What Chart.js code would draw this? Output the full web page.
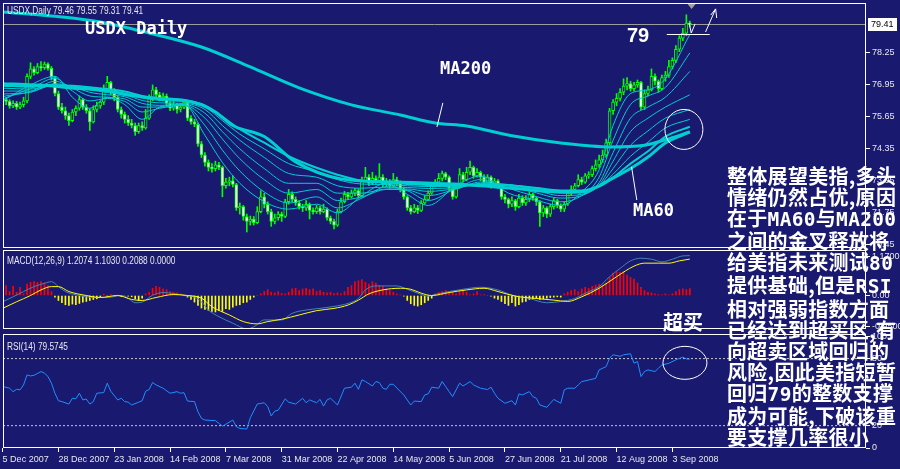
<!DOCTYPE html>
<html><head><meta charset="utf-8"><title>USDX Daily</title>
<script src="https://cdn.jsdelivr.net/npm/chart.js@4/dist/chart.umd.min.js"></script>
<style>
html,body{margin:0;padding:0;width:900px;height:469px;overflow:hidden;background:#191970;}
canvas{position:absolute;left:0;}
.t{position:absolute;white-space:pre;line-height:1;color:#fff;margin:0;}
.lg{font-family:"Liberation Sans",sans-serif;font-size:10px;color:#e8e8e8;transform:scaleX(0.83);transform-origin:0 0;}
.mono{font-family:"DejaVu Sans Mono",monospace;font-weight:bold;font-size:17px;}
.cn{font-family:"Noto Sans CJK SC",sans-serif;font-weight:700;font-size:20px;}
.lat{font-family:"DejaVu Sans Mono",monospace;font-weight:bold;font-size:19.5px;}
</style></head>
<body>
<canvas id="cMain" width="900" height="250" style="top:0px"></canvas>
<canvas id="cMacd" width="900" height="82" style="top:249px"></canvas>
<canvas id="cRsi" width="900" height="137" style="top:332px"></canvas>
<div id="legMain" class="t lg" style="left:7px;top:6px"></div>
<div id="legMacd" class="t lg" style="left:7px;top:256px"></div>
<div id="legRsi" class="t lg" style="left:7px;top:342px"></div>
<div class="t mono" style="left:85px;top:20px">USDX Daily</div>
<div class="t mono" style="left:440px;top:60px">MA200</div>
<div class="t mono" style="left:633px;top:202px">MA60</div>
<div class="t" style="left:627px;top:25px;font-family:'Liberation Sans',sans-serif;font-weight:bold;font-size:20px">79</div>
<div class="t cn" style="left:663px;top:312px">超买</div>
<div id="note" class="t cn" style="left:727px;top:165px;line-height:21.1px;letter-spacing:0.3px"></div>
<script>
const BG = '#191970';
const FONT = '"Liberation Sans",sans-serif';
const X_MIN = 0.11, X_MAX = 247.5;

// ---------- price data (daily bars, 5 Dec 2007 .. 10 Sep 2008) ----------
const opens = [
76.10,76.35,76.28,76.10,76.20,76.05,76.15,76.30,77.30,77.60,
77.45,77.70,77.65,77.80,77.62,77.25,76.60,76.05,75.90,75.70,
75.50,75.85,76.00,76.35,76.05,75.90,75.45,75.95,76.10,76.25,
76.80,77.05,76.70,76.45,75.95,75.75,75.55,75.40,75.30,75.05,
75.30,75.20,75.60,76.40,76.75,76.55,76.40,76.50,76.20,76.00,
76.15,75.95,76.05,76.25,75.60,75.45,75.35,74.55,74.10,73.80,
73.60,73.55,73.70,73.60,72.85,73.00,73.05,72.90,71.95,72.00,
71.60,71.40,71.50,71.35,71.80,72.40,72.10,71.80,71.40,71.55,
71.70,71.60,72.20,72.50,72.30,72.15,72.00,71.95,72.10,71.85,
71.80,71.95,71.80,71.90,71.55,71.40,71.25,71.80,72.20,72.50,
72.40,72.55,72.65,72.45,73.05,73.20,72.95,73.15,73.05,73.20,
72.90,73.00,72.85,73.10,72.95,72.70,72.40,71.95,71.80,71.95,
71.85,72.15,72.30,72.55,72.85,73.00,73.15,73.35,73.20,72.75,
72.40,72.80,73.30,73.10,73.40,73.60,73.25,73.40,73.20,73.00,
73.20,72.90,73.05,72.85,72.40,72.30,72.10,72.25,72.00,72.35,
72.15,72.30,72.50,72.35,72.20,71.75,71.95,71.70,72.00,72.25,
72.05,71.90,72.10,72.55,72.70,72.85,73.10,73.00,73.25,73.30,
73.55,73.70,73.90,74.10,74.60,75.90,76.25,76.40,76.65,76.90,
77.00,76.80,76.95,77.05,76.05,76.60,76.75,77.30,77.10,76.80,
77.25,77.35,77.70,77.95,78.40,78.85,79.05,79.46];
const highs = [
76.45,76.42,76.35,76.30,76.28,76.25,76.45,77.40,77.85,77.70,
77.82,77.90,77.88,77.85,77.70,77.30,76.70,76.20,76.05,75.80,
75.95,76.10,76.50,76.40,76.15,75.98,76.10,76.25,76.30,76.95,
77.30,77.10,76.80,76.50,76.05,75.85,75.70,75.55,75.40,75.40,
75.45,75.95,76.55,76.95,76.85,76.65,76.62,76.58,76.30,76.28,
76.20,76.20,76.35,76.30,75.70,75.55,75.40,74.65,74.20,73.90,
73.75,73.85,73.80,73.65,73.15,73.20,73.25,72.95,72.15,72.05,
71.70,71.62,71.60,72.00,72.65,72.55,72.20,71.90,71.70,71.80,
71.78,72.30,72.70,72.60,72.40,72.25,72.10,72.25,72.15,71.95,
72.05,72.02,72.10,71.95,71.62,71.50,71.90,72.35,72.62,72.58,
72.68,72.75,72.72,73.20,73.60,73.30,73.40,73.25,73.75,73.30,
73.15,73.10,73.35,73.20,73.05,72.80,72.45,72.05,72.10,72.05,
72.25,72.45,72.65,72.95,73.10,73.35,73.45,73.40,73.25,72.80,
72.95,73.55,73.40,73.60,73.85,73.65,73.55,73.45,73.30,73.30,
73.25,73.15,73.10,72.90,72.50,72.35,72.40,72.30,72.50,72.45,
72.45,72.60,72.55,72.40,72.25,72.05,72.00,72.10,72.35,72.30,
72.12,72.20,72.65,72.85,72.95,73.30,73.20,73.35,73.42,73.65,
73.90,74.10,74.30,74.75,76.00,76.35,76.60,76.80,77.20,77.25,
77.10,77.05,77.15,77.10,76.75,76.90,77.60,77.40,77.15,77.35,
77.50,77.95,78.05,78.55,78.95,79.25,79.80,79.55];
const lows = [
75.65,76.15,76.00,76.02,75.95,75.98,76.05,76.22,77.20,77.35,
77.40,77.52,77.58,77.55,77.15,76.50,75.95,75.80,75.55,75.30,
75.45,75.70,75.92,75.95,75.80,75.10,75.40,75.85,76.00,76.15,
76.70,76.55,76.30,75.85,75.60,75.40,75.30,75.20,74.90,74.98,
75.10,75.15,75.55,76.30,76.45,76.30,76.30,76.10,75.90,75.92,
75.80,75.85,75.98,75.50,75.35,75.25,74.45,74.00,73.65,73.45,
73.40,73.45,73.50,72.40,72.75,72.85,72.80,71.85,71.70,71.45,
70.97,71.25,71.25,71.30,71.75,71.95,71.70,71.20,71.30,71.45,
71.40,71.55,72.10,72.20,72.05,71.90,71.80,71.85,71.50,71.70,
71.72,71.70,71.75,71.45,71.30,71.10,71.20,71.75,72.15,72.30,
72.35,72.45,72.35,72.40,73.00,72.85,72.90,72.95,73.00,72.80,
72.80,72.75,72.80,72.85,72.60,72.30,71.85,71.70,71.75,71.72,
71.80,72.10,72.25,72.50,72.80,72.95,73.05,73.10,72.65,72.30,
72.35,72.75,73.00,73.05,73.30,73.15,73.20,73.05,72.90,72.95,
72.75,72.85,72.75,72.30,72.15,71.95,72.00,71.85,71.95,72.05,
72.05,72.20,72.25,72.05,71.20,71.60,71.55,71.60,71.90,71.95,
71.80,71.80,72.05,72.45,72.60,72.80,72.90,72.95,73.15,73.22,
73.45,73.60,73.80,74.00,74.50,75.75,76.10,76.30,76.55,76.75,
76.70,76.70,76.85,75.93,75.95,76.50,76.70,76.95,76.65,76.75,
77.10,77.25,77.60,77.85,78.30,78.75,78.95,79.31];
const closes = [
76.35,76.28,76.10,76.20,76.05,76.15,76.30,77.30,77.60,77.45,
77.70,77.65,77.80,77.62,77.25,76.60,76.05,75.90,75.70,75.50,
75.85,76.00,76.35,76.05,75.90,75.45,75.95,76.10,76.25,76.80,
77.05,76.70,76.45,75.95,75.75,75.55,75.40,75.30,75.05,75.30,
75.20,75.60,76.40,76.75,76.55,76.40,76.50,76.20,76.00,76.15,
75.95,76.05,76.25,75.60,75.45,75.35,74.55,74.10,73.80,73.60,
73.55,73.70,73.60,72.85,73.00,73.05,72.90,71.95,72.00,71.60,
71.40,71.50,71.35,71.80,72.40,72.10,71.80,71.40,71.55,71.70,
71.60,72.20,72.50,72.30,72.15,72.00,71.95,72.10,71.85,71.80,
71.95,71.80,71.90,71.55,71.40,71.25,71.80,72.20,72.50,72.40,
72.55,72.65,72.45,73.05,73.20,72.95,73.15,73.05,73.20,72.90,
73.00,72.85,73.10,72.95,72.70,72.40,71.95,71.80,71.95,71.85,
72.15,72.30,72.55,72.85,73.00,73.15,73.35,73.20,72.75,72.40,
72.80,73.30,73.10,73.40,73.60,73.25,73.40,73.20,73.00,73.20,
72.90,73.05,72.85,72.40,72.30,72.10,72.25,72.00,72.35,72.15,
72.30,72.50,72.35,72.20,71.75,71.95,71.70,72.00,72.25,72.05,
71.90,72.10,72.55,72.70,72.85,73.10,73.00,73.25,73.30,73.55,
73.70,73.90,74.10,74.60,75.90,76.25,76.40,76.65,76.90,77.00,
76.80,76.95,77.05,76.05,76.60,76.75,77.30,77.10,76.80,77.25,
77.35,77.70,77.95,78.40,78.85,79.05,79.46,79.41];

// ---------- moving averages: [bar index, value] ----------
const ma200Pts = [[0,79.92],[14,79.75],[28,79.51],[42,79.06],[57,78.49],[71,77.68],[85,76.83],[100,76.14],[114,75.73],[124,75.40],[133,75.28],[146,74.88],[160,74.59],[174,74.43],[184,74.50],[190,74.72],[197,75.04]];
const ma60Pts = [[0,77.00],[9,76.95],[15,76.90],[19,76.83],[28,76.75],[36,76.54],[40,76.46],[43,76.42],[53,76.30],[57,76.14],[61,75.85],[66,75.30],[75,74.85],[84,73.82],[97,73.13],[113,73.00],[132,72.90],[146,72.75],[160,72.60],[166,72.62],[171,72.85],[174,73.09],[180,73.55],[185,74.02],[190,74.59],[197,75.04]];
const ribbonIdx = [0,8,15,20,25,30,35,40,45,52,58,63,68,75,82,90,96,103,110,116,122,130,137,145,152,160,166,171,175,180,185,190,197];
const ribbon1 = [76.30,76.95,77.30,76.45,76.00,76.45,76.15,75.55,76.05,76.15,74.90,73.80,72.95,72.20,71.90,72.10,71.75,72.45,72.95,72.50,72.05,72.85,73.25,72.55,72.30,72.05,72.60,73.50,75.30,76.60,76.75,77.20,79.00];
const ribbon2 = [76.38,76.80,77.22,76.70,76.30,76.40,76.28,75.85,76.00,76.12,75.30,74.30,73.45,72.60,72.15,72.40,71.95,72.35,72.80,72.65,72.25,72.75,73.10,72.75,72.45,72.20,72.45,73.20,74.70,76.15,76.50,76.85,78.25];
const ribbon3 = [76.48,76.68,77.10,76.82,76.50,76.45,76.38,76.05,76.05,76.12,75.60,74.75,73.95,73.10,72.55,72.70,72.25,72.40,72.70,72.68,72.45,72.72,73.00,72.85,72.60,72.35,72.45,72.98,74.20,75.60,76.05,76.45,77.50];
const ribbon4 = [76.58,76.65,77.00,76.88,76.65,76.55,76.47,76.20,76.12,76.15,75.80,75.05,74.35,73.55,72.95,72.95,72.55,72.55,72.72,72.72,72.62,72.74,72.95,72.90,72.70,72.45,72.50,72.88,73.85,75.05,75.60,76.05,76.55];
const ribbon5 = [76.70,76.70,76.95,76.90,76.75,76.64,76.55,76.32,76.22,76.20,75.95,75.30,74.70,74.00,73.35,73.20,72.85,72.75,72.80,72.78,72.74,72.78,72.92,72.90,72.75,72.55,72.56,72.84,73.55,74.50,75.08,75.60,75.95];
const ribbon6 = [76.82,76.78,76.93,76.91,76.82,76.72,76.62,76.42,76.32,76.27,76.05,75.50,74.95,74.35,73.75,73.42,73.10,72.92,72.90,72.85,72.82,72.83,72.90,72.88,72.78,72.62,72.62,72.82,73.32,74.05,74.62,75.20,75.55];
const ribbon7 = [76.92,76.88,76.94,76.92,76.86,76.78,76.68,76.50,76.40,76.33,76.12,75.65,75.15,74.60,74.05,73.58,73.30,73.05,72.98,72.92,72.88,72.86,72.88,72.86,72.78,72.66,72.66,72.82,73.18,73.75,74.25,74.85,75.25];

// ---------- MACD(12,26,9) ----------
const macdPts = [[0,-0.19],[3,-0.04],[6,0.12],[9,0.27],[12,0.37],[14,0.42],[16,0.27],[18,0.12],[22,0.00],[26,-0.06],[30,-0.06],[34,0.00],[36,-0.08],[38,-0.22],[40,-0.20],[43,0.01],[46,0.09],[49,0.06],[52,0.00],[55,-0.05],[57,-0.19],[59,-0.44],[62,-0.64],[66,-0.84],[70,-1.01],[72,-0.95],[75,-0.74],[78,-0.74],[80,-0.74],[83,-0.54],[87,-0.44],[91,-0.39],[95,-0.33],[99,-0.24],[102,-0.09],[104,0.17],[107,0.29],[110,0.29],[113,0.29],[116,0.19],[119,0.07],[122,-0.02],[124,0.03],[128,0.12],[132,0.19],[137,0.25],[142,0.17],[146,0.01],[151,-0.09],[156,-0.22],[160,-0.18],[164,-0.09],[167,0.07],[171,0.27],[174,0.57],[177,0.82],[180,1.05],[183,1.13],[186,1.10],[189,1.02],[192,1.10],[195,1.20],[197,1.2074]];
const signalPts = [[0,-0.39],[4,-0.19],[8,0.00],[11,0.17],[14,0.27],[16,0.27],[19,0.12],[24,0.00],[28,-0.06],[33,0.00],[37,-0.12],[40,-0.15],[44,-0.06],[49,0.03],[53,0.00],[57,-0.08],[60,-0.34],[65,-0.59],[69,-0.79],[73,-0.86],[76,-0.79],[80,-0.72],[85,-0.59],[90,-0.46],[95,-0.39],[99,-0.29],[102,-0.14],[105,0.05],[109,0.17],[114,0.22],[117,0.19],[120,0.07],[123,0.00],[128,0.09],[133,0.17],[138,0.22],[142,0.12],[147,-0.02],[153,-0.09],[158,-0.14],[162,-0.18],[166,-0.04],[171,0.22],[176,0.57],[181,0.89],[184,0.98],[188,0.98],[191,0.98],[194,1.05],[197,1.103]];
const macdHist = [
0.10,0.30,0.12,0.28,0.10,0.25,0.05,0.35,0.40,0.42,0.40,0.42,0.38,0.30,0.12,
-0.05,-0.15,-0.22,-0.28,-0.30,-0.26,-0.28,-0.24,-0.20,-0.18,-0.15,-0.12,-0.10,-0.06,
0.04,-0.02,0.03,-0.01,0.02,-0.03,0.00,-0.02,-0.04,-0.10,-0.15,-0.08,0.05,
0.10,0.22,0.28,0.25,0.20,0.18,0.12,0.10,0.08,0.05,0.02,
-0.05,-0.12,-0.20,-0.30,-0.38,-0.42,-0.45,-0.48,-0.50,-0.45,-0.48,-0.40,-0.42,-0.35,-0.30,-0.28,-0.22,-0.20,-0.12,
-0.05,0.00,0.05,
0.12,0.18,0.10,0.08,0.12,0.06,0.05,0.10,0.20,0.22,0.15,0.20,0.22,0.18,0.20,0.12,0.15,0.10,0.08,0.10,0.06,0.08,0.05,0.12,
0.25,0.30,0.42,0.45,0.48,0.40,0.35,0.42,0.38,0.30,0.28,0.20,0.15,0.10,0.05,0.02,-0.02,
-0.15,-0.25,-0.30,-0.32,-0.28,-0.22,-0.15,-0.08,
0.05,0.10,0.12,0.15,0.08,0.10,0.05,0.12,0.15,0.10,0.02,0.05,0.12,0.02,0.03,0.00,-0.02,
-0.08,-0.12,-0.18,-0.25,-0.30,-0.22,-0.32,-0.28,-0.20,-0.18,-0.12,-0.10,-0.08,-0.12,-0.10,-0.08,-0.06,-0.05,-0.04,-0.05,
0.05,0.10,0.15,0.18,0.12,0.20,0.25,0.22,0.28,0.32,0.35,0.30,0.38,
0.55,0.68,0.72,0.70,0.72,0.62,0.55,0.50,0.38,
0.25,0.15,0.10,0.08,0.05,0.03,0.02,0.05,
0.02,0.05,0.12,0.18,0.20,0.18,0.2088];
const macdLast = [1.2074, 1.1030, 0.2088, 0.0000];

// ---------- RSI(14) ----------
const rsiPts = [[0,55],[2,53.5],[3,50.4],[4,52.5],[5,52],[6,56.4],[7,65.4],[8,64.5],[9,65],[11,68.4],[12,66.9],[13,64],[14,58],[15,49],[16,42.3],[17,41.5],[19,39.3],[20,44.5],[21,44],[22,49],[23,43],[24,43.8],[25,39.3],[26,41.5],[27,49],[29,49.6],[30,58],[31,50.8],[33,43],[34,44.5],[35,41.5],[36,41],[37,38.5],[39,41],[40,42.3],[41,50.8],[42,52.3],[43,58.6],[44,56.4],[46,53.5],[48,49],[50,50.4],[51,49],[52,49.5],[53,42],[55,41.5],[56,32.4],[57,26.5],[58,25],[61,24.5],[63,19.6],[64,21.3],[66,25],[67,19],[68,17.5],[70,17],[71,27],[73,39.3],[75,40.5],[76,37],[77,28.6],[78,33],[79,33.8],[81,44],[82,41],[84,39.3],[86,44.5],[87,40.5],[88,43],[90,40.5],[91,43.5],[92,37.5],[93,43],[94,44.5],[96,38.5],[98,53.5],[100,54.4],[101,58],[102,52.5],[103,61],[104,59.5],[106,55.5],[107,59.5],[108,58.5],[109,53.5],[110,52.5],[111,57],[112,57],[114,50.5],[115,47.5],[117,38.5],[118,42],[120,41.5],[121,47.5],[122,48.4],[123,54.4],[125,53.5],[126,59.5],[127,55],[128,50.4],[129,46],[131,58],[132,55.5],[134,59.4],[135,56.4],[137,53.5],[139,52.3],[140,54.4],[141,49],[142,44.5],[144,40],[146,42.3],[147,38.5],[148,48.4],[149,47.5],[151,50.4],[152,46],[153,44.5],[154,38.5],[156,36.4],[157,40],[158,43.5],[160,40],[161,52],[162,53.5],[164,53.5],[165,56.4],[166,59.4],[168,60.8],[170,62.3],[171,69.9],[173,72.8],[174,80.4],[175,83.4],[177,82],[178,83.4],[180,84.3],[181,75.9],[182,77.4],[183,63.9],[184,68.4],[185,69.9],[187,68.4],[188,71.4],[189,74.3],[191,75.8],[193,78.9],[195,81.3],[196,79.7],[197,79.5745]];
const rsiLevels = [80, 20];

// ---------- axes ----------
const priceTicks = [78.25, 76.95, 75.65, 74.35, 73.05, 71.75, 70.45];
const macdTicks = [1.17, 0, -0.95];
const rsiTicks = [0, 20, 80, 100];
const dateIdx = [0,16,32,48,64,80,96,112,128,144,160,176,192];
const dateLabels = ['5 Dec 2007','28 Dec 2007','23 Jan 2008','14 Feb 2008','7 Mar 2008','31 Mar 2008','22 Apr 2008','14 May 2008','5 Jun 2008','27 Jun 2008','21 Jul 2008','12 Aug 2008','3 Sep 2008'];

// ---------- hand-drawn annotations, in data coordinates ----------
const annLines = [
  [190.4,79.0,202.7,79.0],
  [126.2,76.22,124.5,75.24],
  [180.3,73.62,181.8,72.27],
  [201.5,79.10,204.4,80.04],
  [204.4,80.04,203.0,79.79],
  [204.4,80.04,204.7,79.67],
  [196.8,79.47,197.4,79.06],
  [197.4,79.06,198.5,79.43]
];
const annEllipses = [[195.3,75.14,19,20]];
const rsiEllipses = [[195.6,76.2,22,16.5]];
const shiftIdx = 197.5;

const noteLines = ['整体展望美指,多头','情绪仍然占优,原因','在于MA60与MA200','之间的金叉释放将','给美指未来测试80','提供基础,但是RSI','相对强弱指数方面','已经达到超买区,有','向超卖区域回归的','风险,因此美指短暂','回归79的整数支撑','成为可能,下破该重','要支撑几率很小'];

// ---------- build ----------
const N = closes.length;
const CYAN = '#00CED1';
document.getElementById('legMain').textContent = 'USDX,Daily ' + [opens[N-1],highs[N-1],lows[N-1],closes[N-1]].map(v=>v.toFixed(2)).join(' ');
document.getElementById('legMacd').textContent = 'MACD(12,26,9) ' + macdLast.map(v=>v.toFixed(4)).join(' ');
document.getElementById('legRsi').textContent = 'RSI(14) ' + rsiPts[rsiPts.length-1][1].toFixed(4);
(function(){
  const note = document.getElementById('note');
  noteLines.forEach((line, k)=>{
    line.split(/([A-Za-z0-9]+)/).forEach(part=>{
      if (!part) return;
      if (/^[A-Za-z0-9]+$/.test(part)) { const s = document.createElement('span'); s.className = 'lat'; s.textContent = part; note.appendChild(s); }
      else note.appendChild(document.createTextNode(part));
    });
    if (k < noteLines.length-1) note.appendChild(document.createElement('br'));
  });
})();

function pts(p){ return p.map(([x,y])=>({x,y})); }
function lineDS(data, color, width, order, mono){
  return {type:'line', data, borderColor:color, borderWidth:width, pointRadius:0, fill:false,
          cubicInterpolationMode: mono ? 'monotone' : 'default', tension:0, order};
}
function rightAxis(min, max, ticks, fmt){
  return {position:'right', min, max,
    afterFit(s){ s.width = 34; s.paddingTop = 0; s.paddingBottom = 0; },
    afterBuildTicks(s){ s.ticks = ticks.map(v=>({value:v})); },
    ticks:{color:'#e8e8e8', font:{family:FONT, size:9}, padding:2, autoSkip:false, callback:fmt},
    grid:{drawOnChartArea:false, drawTicks:true, tickLength:4, color:'#ffffff', lineWidth:1},
    border:{display:false}};
}
const hiddenX = {type:'linear', min:X_MIN, max:X_MAX, display:false, offset:false};
const baseOpts = {responsive:false, animation:false, events:[], plugins:{legend:{display:false}, tooltip:{enabled:false}}};

const framePlugin = {id:'frame', afterDraw(chart){
  const a = chart.chartArea, c = chart.ctx;
  c.save(); c.strokeStyle = '#ffffff'; c.lineWidth = 1;
  c.strokeRect(a.left+0.5, a.top+0.5, a.right-a.left-1, a.bottom-a.top-1);
  c.restore();
}};
function drawEllipses(chart, list){
  const {ctx, scales:{x,y}} = chart;
  ctx.save(); ctx.strokeStyle = '#ffffff'; ctx.lineWidth = 1;
  list.forEach(([i,v,rx,ry])=>{ ctx.beginPath(); ctx.ellipse(x.getPixelForValue(i), y.getPixelForValue(v), rx, ry, 0, 0, Math.PI*2); ctx.stroke(); });
  ctx.restore();
}
const mainPlugin = {id:'mainAnn',
  beforeDatasetsDraw(chart){
    const {ctx, chartArea:a, scales:{y}} = chart;
    const py = Math.round(y.getPixelForValue(closes[N-1])) + 0.5;
    ctx.save(); ctx.strokeStyle = '#9c9c9c'; ctx.lineWidth = 1;
    ctx.beginPath(); ctx.moveTo(a.left, py); ctx.lineTo(a.right, py); ctx.stroke(); ctx.restore();
  },
  afterDraw(chart){
    const {ctx, chartArea:a, scales:{x,y}} = chart;
    ctx.save(); ctx.strokeStyle = '#ffffff'; ctx.lineWidth = 1;
    annLines.forEach(([i1,p1,i2,p2])=>{ ctx.beginPath(); ctx.moveTo(x.getPixelForValue(i1), y.getPixelForValue(p1)); ctx.lineTo(x.getPixelForValue(i2), y.getPixelForValue(p2)); ctx.stroke(); });
    ctx.restore();
    drawEllipses(chart, annEllipses);
    ctx.save();
    const sx = x.getPixelForValue(shiftIdx);
    ctx.fillStyle = '#a0a0a0'; ctx.beginPath(); ctx.moveTo(sx-4, a.top+1); ctx.lineTo(sx+4, a.top+1); ctx.lineTo(sx, a.top+6); ctx.closePath(); ctx.fill();
    const py = y.getPixelForValue(closes[N-1]);
    ctx.fillStyle = '#ffffff'; ctx.fillRect(a.right+2, Math.round(py)-6, 29, 13);
    ctx.fillStyle = '#000000'; ctx.font = '9px ' + FONT; ctx.textBaseline = 'middle'; ctx.textAlign = 'left';
    ctx.fillText(closes[N-1].toFixed(2), a.right+5, Math.round(py)+1);
    ctx.restore();
  }
};

// main price chart
const wickData = closes.map((c,i)=>({x:i, y:[lows[i], highs[i]]}));
const bodyData = closes.map((c,i)=>({x:i, y:[opens[i], closes[i]]}));
const bodyFill = closes.map((c,i)=> c < opens[i] ? '#ffffff' : BG);
const ribbons = [ribbon1,ribbon2,ribbon3,ribbon4,ribbon5,ribbon6,ribbon7];
const ribbonSets = ribbons.map((r,k)=> lineDS(ribbonIdx.map((x,j)=>({x, y:r[j]})), CYAN, k===6 ? 2 : 1, 1, true));

new Chart(document.getElementById('cMain'), {
  type:'bar',
  data:{datasets:[
    {type:'bar', data:wickData, backgroundColor:'#00ff00', barThickness:1, grouped:false, order:3},
    {type:'bar', data:bodyData, backgroundColor:bodyFill, borderColor:'#00ff00', borderWidth:1, borderSkipped:false, barThickness:3, grouped:false, order:2},
    ...ribbonSets,
    lineDS(pts(ma60Pts), CYAN, 3, 0, true),
    lineDS(pts(ma200Pts), CYAN, 3, 0, true)
  ]},
  options:Object.assign({}, baseOpts, {
    layout:{padding:{left:3, top:3, right:0, bottom:2}},
    scales:{x:hiddenX, y:rightAxis(70.32, 80.28, priceTicks, v=>v.toFixed(2))}
  }),
  plugins:[mainPlugin, framePlugin]
});

// MACD chart
new Chart(document.getElementById('cMacd'), {
  type:'bar',
  data:{datasets:[
    {type:'bar', data:macdHist.map((v,i)=>({x:i, y:v})), backgroundColor:macdHist.map(v=> v>=0 ? '#ff0000' : '#ffff00'), barThickness:1, grouped:false, order:2},
    lineDS(pts(macdPts), '#4682B4', 1, 1, true),
    lineDS(pts(signalPts), '#ffff00', 1, 0, true)
  ]},
  options:Object.assign({}, baseOpts, {
    layout:{padding:{left:3, top:1, right:0, bottom:2}},
    scales:{x:hiddenX, y:rightAxis(-1.015, 1.379, macdTicks, v=> v===0 ? '0.00' : v.toFixed(4))}
  }),
  plugins:[framePlugin]
});

// RSI chart
const rsiPlugin = {id:'rsiAnn', afterDraw(chart){ drawEllipses(chart, rsiEllipses); }};
new Chart(document.getElementById('cRsi'), {
  type:'line',
  data:{datasets:[
    ...rsiLevels.map(v=>({type:'line', data:[{x:X_MIN,y:v},{x:X_MAX,y:v}], borderColor:'#c8c8c8', borderWidth:1, borderDash:[2,2], pointRadius:0, order:2})),
    {type:'line', data:pts(rsiPts), borderColor:'#1E90FF', borderWidth:1, pointRadius:0, tension:0, order:0}
  ]},
  options:Object.assign({}, baseOpts, {
    layout:{padding:{left:3, top:2, right:0, bottom:0}},
    scales:{
      x:{type:'linear', min:X_MIN, max:X_MAX, offset:false, position:'bottom',
        afterFit(s){ s.height = 21; s.paddingLeft = 0; s.paddingRight = 0; },
        afterBuildTicks(s){ s.ticks = dateIdx.map(v=>({value:v})); },
        ticks:{autoSkip:false, maxRotation:0, minRotation:0, align:'start', color:'#e8e8e8', font:{family:FONT, size:9}, padding:2,
               callback:(v,i)=> dateLabels[i]},
        grid:{drawOnChartArea:false, drawTicks:true, tickLength:4, color:'#ffffff'},
        border:{display:false}},
      y:rightAxis(0, 102, rsiTicks, v=> String(v))
    }
  }),
  plugins:[rsiPlugin, framePlugin]
});
</script>
</body></html>
